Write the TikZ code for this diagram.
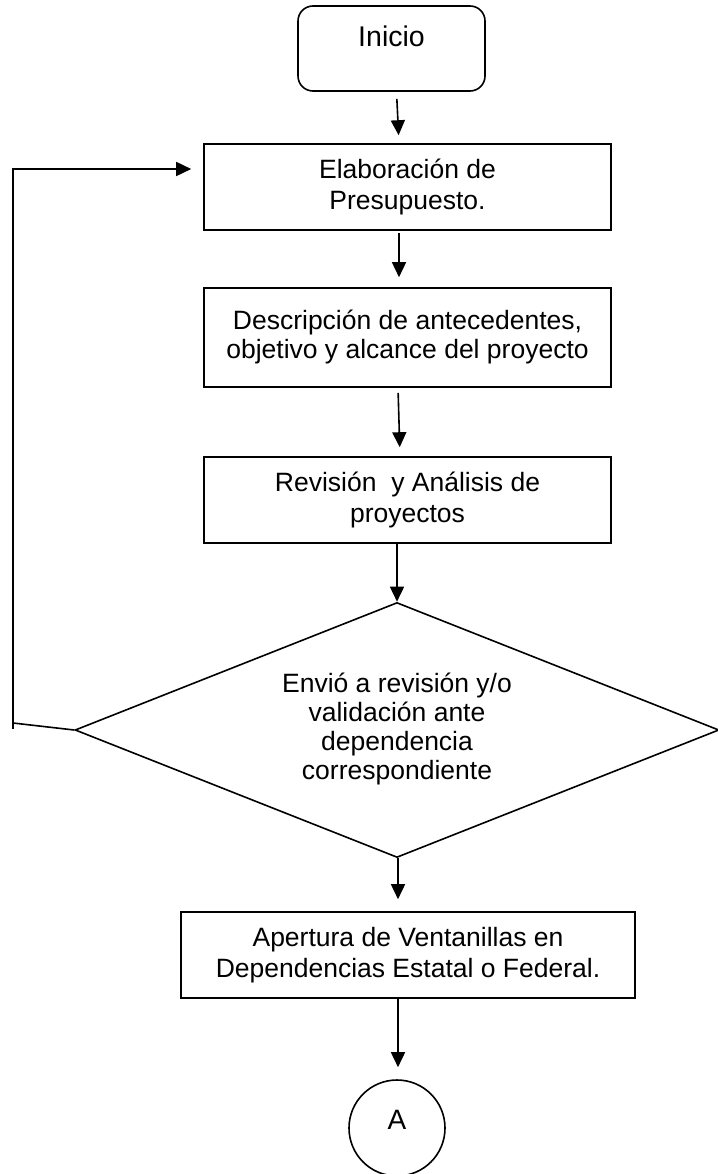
\documentclass[tikz,border=0pt]{standalone}
\usepackage{fontspec}
\setmainfont{Liberation Sans}
\usetikzlibrary{shapes.geometric,arrows.meta}
\begin{document}
\begin{tikzpicture}[x=1pt,y=-1pt,
  txt/.style={font=\fontsize{26.5pt}{31pt}\selectfont, align=center, inner sep=0pt},
  proc/.style={txt, rectangle, draw, line width=1.6pt, minimum width=407pt},
  startbox/.style={txt, font=\fontsize{28.5pt}{33pt}\selectfont, rectangle, rounded corners=15pt, draw, line width=1.6pt, minimum width=187pt, minimum height=85pt},
  decision/.style={txt, diamond, shape aspect=2.525, draw, line width=1.6pt, minimum width=644pt, minimum height=255pt},
  connector/.style={txt, font=\fontsize{28pt}{33pt}\selectfont, circle, draw, line width=1.6pt, minimum size=96pt},
  arr/.style={line width=1.6pt, -{Triangle[length=15pt,width=14pt]}},
  plain/.style={line width=1.6pt}
]
\useasboundingbox (0,0) rectangle (717,1174);

\node[startbox] (inicio) at (391.5,48.5) {\raisebox{24pt}{Inicio}};
\node[proc, minimum height=86pt] (box1) at (407.5,187) {Elaboración de\\ Presupuesto.};
\node[proc, minimum height=99pt] (box2) at (407.5,337.5) {\raisebox{8pt}{\begin{tabular}{@{}c@{}}Descripción de antecedentes,\\[-2pt]objetivo y alcance del proyecto\end{tabular}}};
\node[proc, minimum height=86pt] (box3) at (407.5,500) {Revisión\ \ y Análisis de\\proyectos};
\node[decision] (dec) at (397,730) {\raisebox{-6pt}{\begin{tabular}{@{}c@{}}Envió a revisión y/o\\[-2pt]validación ante\\[-2pt]dependencia\\[-2pt]correspondiente\end{tabular}}};
\node[proc, minimum width=454pt, minimum height=86pt] (ap) at (408,955) {Apertura de Ventanillas en\\Dependencias Estatal o Federal.};
\node[connector] (A) at (397,1128) {\raisebox{16pt}{A}};

\coordinate (loopbot) at (13,723);
\coordinate (loopstub) at (13,729);
\coordinate (looptop) at (13,169);

\draw[arr, shorten <=7pt, shorten >=8pt] ([xshift=5pt]inicio.south) -- ([xshift=-8.5pt]box1.north);
\draw[arr, shorten <=2pt, shorten >=10pt] ([xshift=-8.5pt]box1.south) -- ([xshift=-8.5pt]box2.north);
\draw[arr, shorten <=5pt, shorten >=9pt] ([xshift=-9.5pt]box2.south) -- ([xshift=-7.5pt]box3.north);
\draw[arr] ([xshift=-10.5pt]box3.south) -- (dec.north);
\draw[arr, shorten >=12pt] ([xshift=1pt]dec.south) -- ([xshift=-10pt]ap.north);
\draw[arr, shorten >=12pt] ([xshift=-10pt]ap.south) -- ([xshift=1pt]A.north);

\draw[arr, shorten >=12pt] (dec.west) -- (loopbot) -- (looptop) -- (box1.west |- looptop);
\draw[plain] (loopbot) -- (loopstub);
\end{tikzpicture}
\end{document}
